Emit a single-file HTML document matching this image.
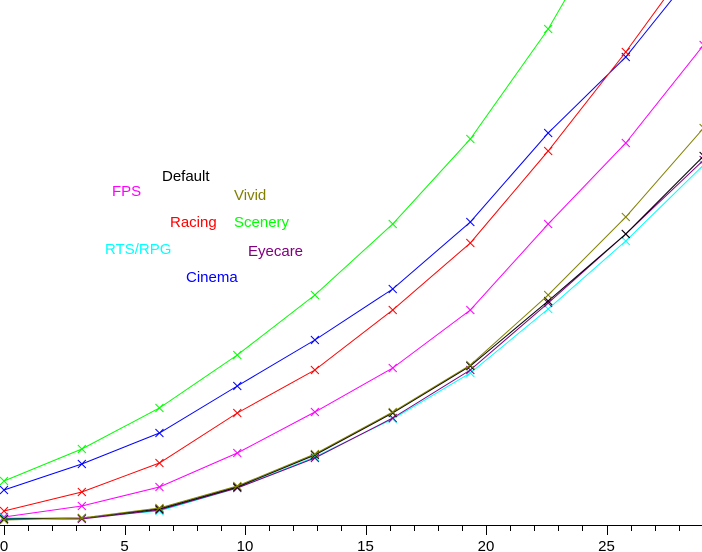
<!DOCTYPE html>
<html><head><meta charset="utf-8"><style>
html,body{margin:0;padding:0;background:#fff;}
svg{display:block;font-family:"Liberation Sans",Arial,sans-serif;}
</style></head><body>
<svg id="chart" width="702" height="552" xmlns="http://www.w3.org/2000/svg">
<g id="axis"></g>
<g id="series"></g>
<g id="legend" font-size="15">
<text x="162" y="181" fill="#000000">Default</text>
<text x="112" y="196" fill="#ff00ff">FPS</text>
<text x="234" y="200" fill="#808000">Vivid</text>
<text x="170" y="227" fill="#ff0000">Racing</text>
<text x="234" y="227" fill="#00ff00">Scenery</text>
<text x="105" y="254" fill="#00ffff">RTS/RPG</text>
<text x="248" y="256" fill="#800080">Eyecare</text>
<text x="186" y="282" fill="#0000ff">Cinema</text>
</g>
</svg>
<script>
const xValues = [0, 3.23, 6.45, 9.68, 12.9, 16.13, 19.35, 22.58, 25.8, 29.03];
const scenery = [44, 76, 117, 170, 230, 301, 386, 496, 630, 780];
const cinema = [35, 61, 92, 139, 185, 236, 303, 392, 468, 565];
const racing = [14, 33, 62, 112, 155, 215, 282, 374, 473, 580];
const fps = [8, 19, 38, 72, 113, 157, 215, 301, 382, 480];
const vivid = [5, 7, 17, 39, 71, 113, 160, 230, 308, 397];
const eyecare = [6, 6, 15, 37, 67, 107, 155, 222, 291, 365];
const rtsrpg = [7, 7, 14, 37, 68, 106, 152, 216, 284, 360];
const deflt = [6, 7, 16, 38, 70, 112, 159, 224, 291, 369];
const tickLabels = [0, 5, 10, 15, 20, 25];

const NS = "http://www.w3.org/2000/svg";
const X0 = 4, XS = 24.1, Y0 = 525, YS = 1;
function sx(v){ return X0 + v * XS; }
function sy(v){ return Y0 - v * YS; }

const axis = document.getElementById('axis');
let ax = document.createElementNS(NS, 'line');
ax.setAttribute('x1', 0); ax.setAttribute('x2', 702);
ax.setAttribute('y1', Y0 + 0.5); ax.setAttribute('y2', Y0 + 0.5);
ax.setAttribute('stroke', '#000');


axis.appendChild(ax);
for (let i = 0; i <= 29; i++) {
  const major = i % 5 === 0;
  const t = document.createElementNS(NS, 'line');
  const x = Math.round(sx(i)) + 0.5;
  t.setAttribute('x1', x); t.setAttribute('x2', x);
  t.setAttribute('y1', Y0); t.setAttribute('y2', Y0 + (major ? 10 : 6));
  t.setAttribute('stroke', '#000');
  
  
  axis.appendChild(t);
}
tickLabels.forEach(v => {
  const t = document.createElementNS(NS, 'text');
  t.setAttribute('x', sx(v)); t.setAttribute('y', 551);
  t.setAttribute('font-size', '15');
  t.setAttribute('text-anchor', 'middle');
  t.textContent = v;
  
  
  axis.appendChild(t);
});

const seriesList = [
  ['scenery', scenery, '#00ff00'],
  ['cinema', cinema, '#0000ff'],
  ['racing', racing, '#ff0000'],
  ['fps', fps, '#ff00ff'],
  ['rts-rpg', rtsrpg, '#00ffff'],
  ['eyecare', eyecare, '#800080'],
  ['default', deflt, '#000000'],
  ['vivid', vivid, '#808000']
];
const sg = document.getElementById('series');
seriesList.forEach(([name, vals, col]) => {
  const g = document.createElementNS(NS, 'g');
  
  
  const p = document.createElementNS(NS, 'polyline');
  p.setAttribute('points', vals.map((v, i) => sx(xValues[i]) + ',' + sy(v)).join(' '));
  p.setAttribute('fill', 'none');
  p.setAttribute('stroke', col);
  p.setAttribute('stroke-width', '1');
  
  
  g.appendChild(p);
  vals.forEach((v, i) => {
    const cx = sx(xValues[i]), cy = sy(v);
    const m = document.createElementNS(NS, 'path');
    m.setAttribute('d', `M${cx-4},${cy-4}L${cx+4},${cy+4}M${cx-4},${cy+4}L${cx+4},${cy-4}`);
    m.setAttribute('stroke', col);
    
    
    g.appendChild(m);
  });
  sg.appendChild(g);
});
</script>
</body></html>
